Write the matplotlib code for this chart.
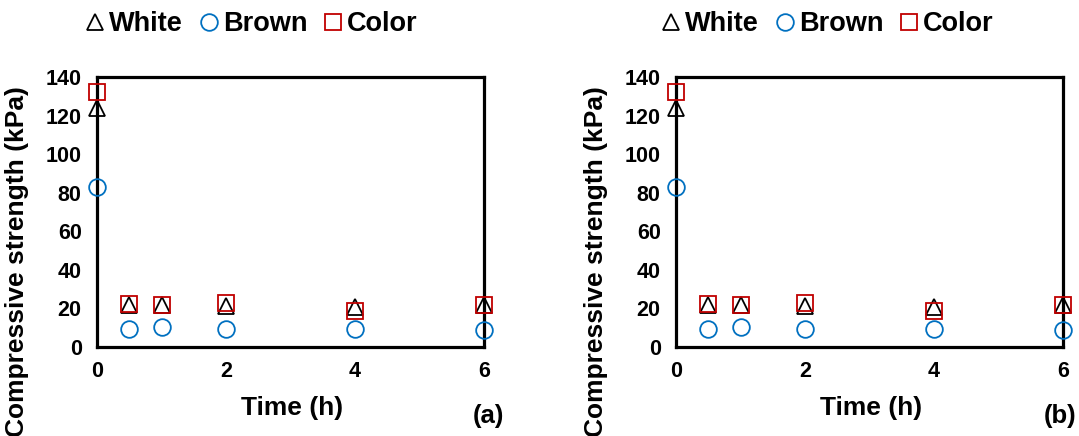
import matplotlib.pyplot as plt
import numpy as np

plt.rcParams['font.family'] = ['Liberation Sans', 'DejaVu Sans']
plt.rcParams['font.weight'] = 'bold'

# sampling times (h)
time_h = [0, 0.5, 1, 2, 4, 6]

# compressive strength (kPa)
white = [124, 22, 22, 21.5, 21, 22]
brown = [83, 9.5, 10.3, 9.5, 9.5, 9]
color = [132, 22.5, 22, 23, 18.5, 22]

panel_tags = ['(a)', '(b)']

W, H = 1079, 436
fig = plt.figure(figsize=(W / 100, H / 100), dpi=100)


def px(x, y):
    # pixel position -> figure fraction
    return x / W, 1 - y / H


def draw_panel(x0, tag, tag_x, leg_x):
    left, bottom = px(x0, 347)
    ax = fig.add_axes([left, bottom, 387 / W, 270 / H])

    ax.plot(time_h, white, ls='none', marker='^', ms=11, mfc='none', mec='black',
            mew=1.3, clip_on=False, zorder=3, label='White')
    ax.plot(time_h, brown, ls='none', marker='o', ms=12, mfc='none', mec='#0070C0',
            mew=1.3, clip_on=False, zorder=3, label='Brown')
    ax.plot(time_h, color, ls='none', marker='s', ms=11, mfc='none', mec='#C00000',
            mew=1.3, clip_on=False, zorder=4, label='Color')

    ax.set_xlim(0, 6)
    ax.set_ylim(0, 140)
    ax.set_xticks([0, 2, 4, 6])
    ax.set_yticks(np.arange(0, 141, 20))
    ax.tick_params(length=0, labelsize=15.5)
    ax.tick_params(axis='y', pad=11)
    ax.tick_params(axis='x', pad=10)
    for s in ax.spines.values():
        s.set_linewidth(2.3)
        s.set_color('black')

    fx, fy = px(x0 + 195, 408)
    fig.text(fx, fy, 'Time (h)', ha='center', va='center', fontsize=19, fontweight='bold')
    fx, fy = px(tag_x, 416)
    fig.text(fx, fy, tag, ha='center', va='center', fontsize=18.5, fontweight='bold')
    fx, fy = px(x0 - 80, 262)
    fig.text(fx, fy, 'Compressive strength (kPa)', rotation=90, ha='center',
             va='center', fontsize=19, fontweight='bold')

    handles, labels = ax.get_legend_handles_labels()
    lx, ly = px(leg_x, 24)
    fig.legend(handles, labels, loc='center', bbox_to_anchor=(lx, ly), ncol=3,
               frameon=False, handlelength=0.8, handletextpad=0.12,
               columnspacing=0.55, prop={'weight': 'bold', 'size': 19.5})
    return ax


draw_panel(97, panel_tags[0], 488, 251)
draw_panel(676, panel_tags[1], 1060, 827)

fig.savefig('out.png', dpi=100)
